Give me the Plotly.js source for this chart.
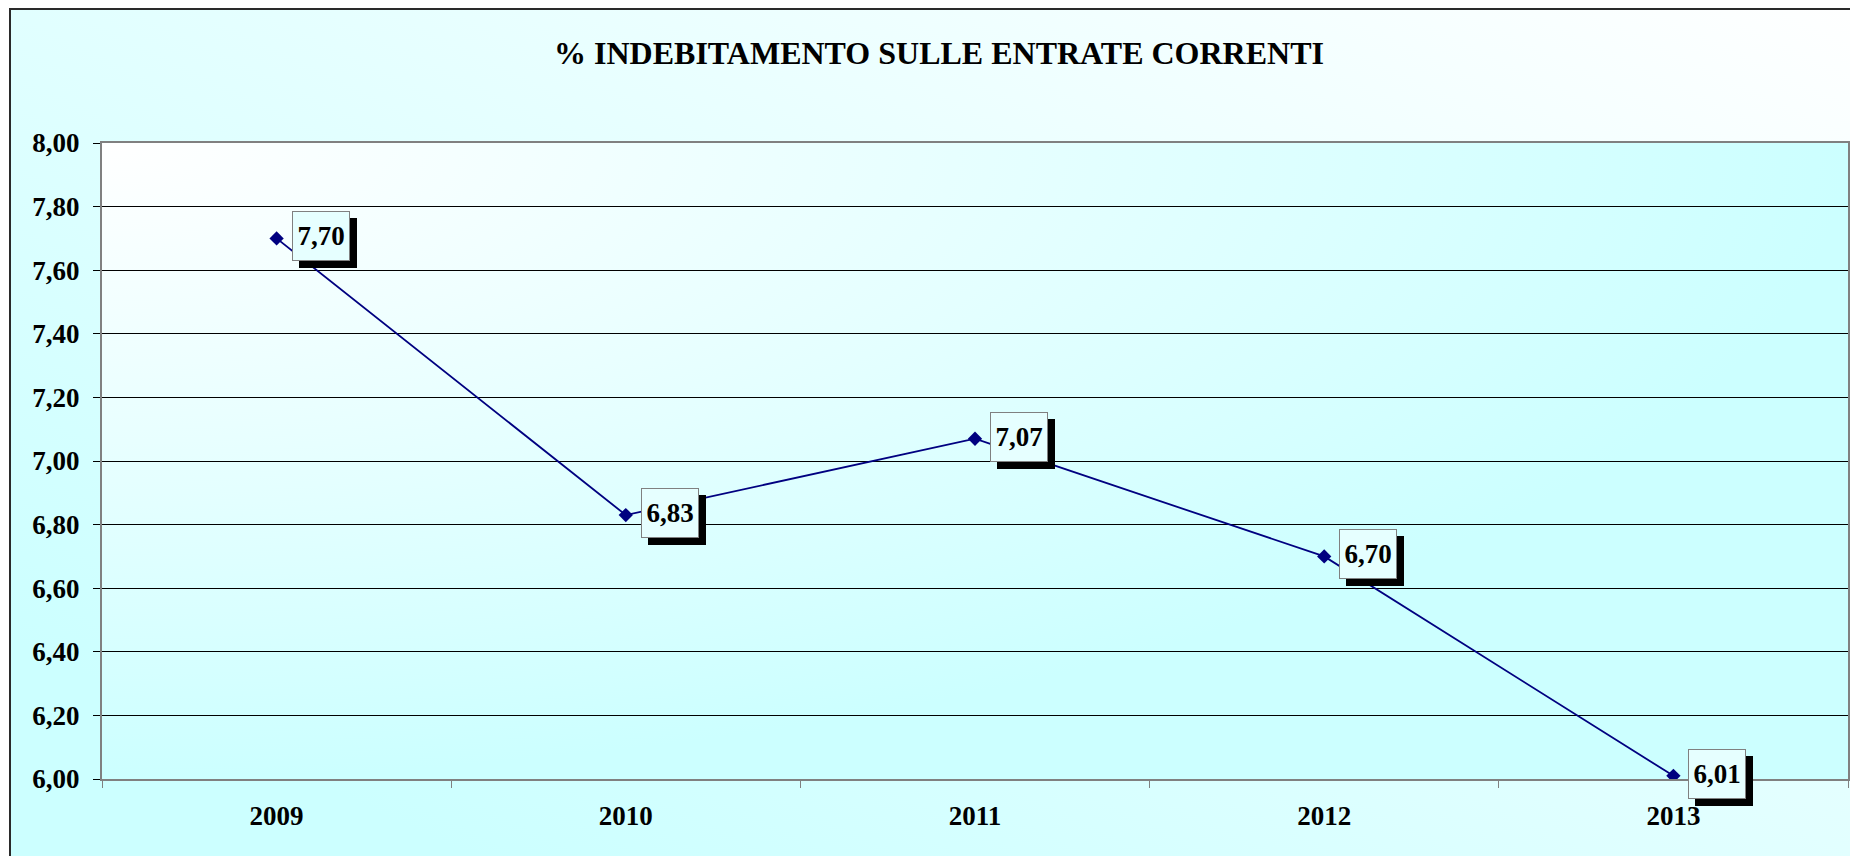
<!DOCTYPE html>
<html>
<head>
<meta charset="utf-8">
<script src="https://cdn.plot.ly/plotly-3.0.1.min.js"></script>
<style>
  html, body { margin: 0; padding: 0; background: #ffffff; overflow: hidden; width: 1850px; height: 856px; }
  #frame { position: absolute; left: 9px; top: 8px; width: 1900px; height: 900px;
           border-left: 2px solid #2a2a2a; border-top: 2px solid #2a2a2a;
           background: linear-gradient(to bottom left, #ffffff 0%, #e4ffff 45%, #ccffff 85%); }
  #chart { position: absolute; left: 0; top: 0; width: 1850px; height: 856px; }
</style>
</head>
<body>
<div id="frame"></div>
<div id="chart"></div>
<script>
const years = ['2009', '2010', '2011', '2012', '2013'];
const values = [7.70, 6.83, 7.07, 6.70, 6.01];
const yTickValues = [6.0, 6.2, 6.4, 6.6, 6.8, 7.0, 7.2, 7.4, 7.6, 7.8, 8.0];
const chartTitle = '% INDEBITAMENTO SULLE ENTRATE CORRENTI';

const serif = 'Liberation Serif, Times New Roman, serif';
const navy = '#000080';

const fmt = v => v.toFixed(2).replace('.', ',');

const trace = {
  x: years, y: values, type: 'scatter', mode: 'lines+markers',
  line: { color: navy, width: 1.8 },
  marker: { symbol: 'diamond', size: 11, color: navy },
  hoverinfo: 'skip'
};

const annotations = [];
years.forEach((yr, i) => {
  // drop shadow (no text)
  annotations.push({
    x: i, y: values[i], xref: 'x', yref: 'y', text: ' ',
    showarrow: false, xanchor: 'left', yanchor: 'middle',
    width: 56, height: 48, borderpad: 0, borderwidth: 1,
    xshift: 22, yshift: -5, bgcolor: '#000000', bordercolor: '#000000',
    font: { family: serif, size: 27, color: '#000000' }
  });
  // label box
  annotations.push({
    x: i, y: values[i], xref: 'x', yref: 'y', text: '<b>' + fmt(values[i]) + '</b>',
    showarrow: false, xanchor: 'left', yanchor: 'middle',
    width: 56, height: 48, borderpad: 0, borderwidth: 1,
    xshift: 15, yshift: 2, bgcolor: '#e6ffff', bordercolor: '#808080',
    font: { family: serif, size: 27, color: '#000000' }
  });
});

const svgGrad = "<svg xmlns='http://www.w3.org/2000/svg' width='200' height='100' preserveAspectRatio='none'>" +
  "<defs><radialGradient id='g' cx='0' cy='0' r='1' gradientUnits='objectBoundingBox'>" +
  "<stop offset='0' stop-color='#ffffff'/><stop offset='0.55' stop-color='#e4ffff'/><stop offset='1' stop-color='#ccffff'/></radialGradient></defs>" +
  "<rect x='0' y='0' width='200' height='100' fill='url(#g)'/></svg>";
const gradURI = 'data:image/svg+xml;charset=utf-8,' + encodeURIComponent(svgGrad);

const layout = {
  width: 1850, height: 856,
  margin: { l: 102, r: 2, t: 143, b: 77 },
  paper_bgcolor: 'rgba(0,0,0,0)',
  plot_bgcolor: 'rgba(0,0,0,0)',
  separators: ',.',
  showlegend: false,
  title: {
    text: '<b>' + chartTitle + '</b>',
    font: { family: serif, size: 32, color: '#000000' },
    x: 939 / 1850, xref: 'container', xanchor: 'center',
    y: 1 - 53 / 856, yref: 'container', yanchor: 'middle'
  },
  xaxis: {
    type: 'category', range: [-0.5, 4.5],
    showgrid: false, zeroline: false,
    showline: true, linecolor: '#808080', linewidth: 2, mirror: true,
    ticks: 'outside', tickson: 'boundaries', ticklen: 7, tickcolor: '#808080', tickwidth: 1,
    tickfont: { family: serif, size: 27, color: '#000000', weight: 'bold' },
    ticklabelstandoff: 12
  },
  yaxis: {
    range: [6, 8], tickvals: yTickValues, tickformat: '.2f',
    showgrid: true, gridcolor: '#000000', gridwidth: 1, zeroline: false,
    showline: true, linecolor: '#808080', linewidth: 2, mirror: true,
    ticks: 'outside', ticklen: 7, tickcolor: '#000000', tickwidth: 1,
    tickfont: { family: serif, size: 27, color: '#000000', weight: 'bold' },
    ticklabelstandoff: 8
  },
  images: [{
    source: gradURI, xref: 'paper', yref: 'paper', x: 0, y: 1, sizex: 1, sizey: 1,
    xanchor: 'left', yanchor: 'top', sizing: 'stretch', layer: 'below'
  }],
  annotations: annotations
};

Plotly.newPlot('chart', [trace], layout, { displayModeBar: false, staticPlot: true });
</script>
</body>
</html>
